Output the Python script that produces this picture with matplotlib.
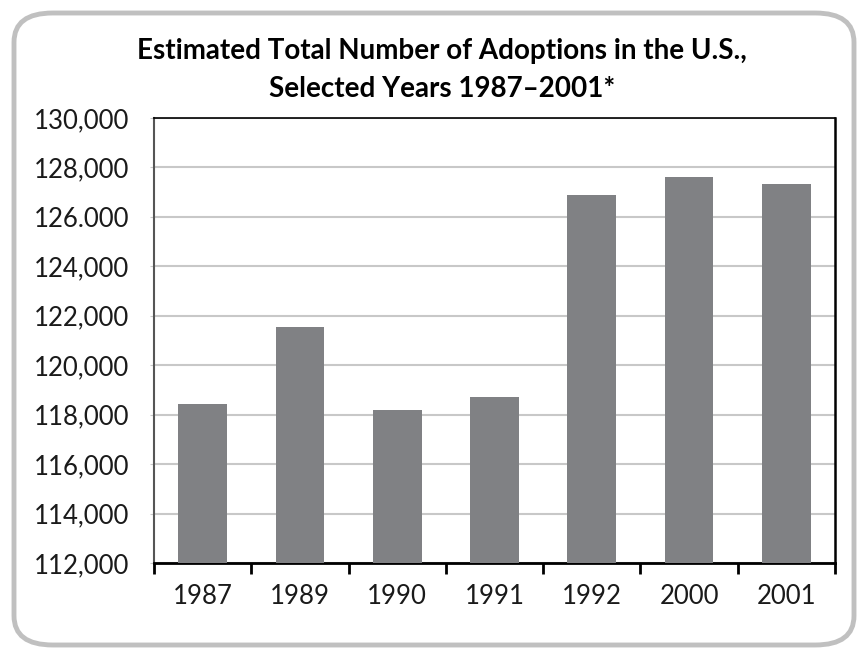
import numpy as np
import matplotlib.pyplot as plt
from matplotlib.patches import FancyBboxPatch
from matplotlib.ticker import FixedLocator

# === Data ===
years = ["1987", "1989", "1990", "1991", "1992", "2000", "2001"]
adoptions = [118450, 121550, 118200, 118700, 126900, 127600, 127350]
y_ticks = [112000, 114000, 116000, 118000, 120000, 122000, 124000, 126000, 128000, 130000]
y_labels = ["112,000", "114,000", "116,000", "118,000", "120,000", "122,000",
            "124,000", "126.000", "128,000", "130,000"]

W, H, DPI = 861, 648, 100
fig = plt.figure(figsize=(W / DPI, H / DPI), dpi=DPI)

# rounded grey frame around the whole chart
frame = FancyBboxPatch((14 / W, 3 / H), 840 / W, 632 / H,
                       boxstyle="round,pad=0,rounding_size=0.045",
                       transform=fig.transFigure, facecolor="white",
                       edgecolor="#c0c0c0", linewidth=3.5, zorder=-1)
fig.patches.append(frame)

ax = fig.add_axes([154 / W, 1 - 563 / H, 681 / W, 445 / H])
ax.set_zorder(1)
ax.set_facecolor("none")

x = np.arange(len(years))
ax.bar(x, adoptions, width=0.5, color="#808184", zorder=3)

ax.set_xlim(-0.5, len(years) - 0.5)
ax.set_ylim(112000, 130000)
ax.set_yticks(y_ticks)
ax.set_yticklabels(y_labels)
ax.set_xticks(x)
ax.set_xticklabels(years)
ax.xaxis.set_minor_locator(FixedLocator(np.arange(-0.5, len(years), 1.0)))

ax.grid(axis="y", color="#c8c8c8", linewidth=1.5, zorder=1)
ax.tick_params(axis="y", length=3, color="#c8c8c8", labelsize=18.5, pad=15)
ax.tick_params(axis="x", which="major", length=0, labelsize=18.5, pad=15)
ax.tick_params(axis="x", which="minor", length=8, width=2, color="black",
               direction="out")
for lab in ax.get_xticklabels() + ax.get_yticklabels():
    lab.set_fontfamily("Lato")
    lab.set_color("#1a1a1a")

ax.spines["left"].set_color("#555555")
ax.spines["left"].set_linewidth(1.5)
ax.spines["bottom"].set_linewidth(2)
ax.spines["top"].set_linewidth(1.2)
ax.spines["right"].set_linewidth(1.8)

fig.text(442 / W, 1 - 59 / H, "Estimated Total Number of Adoptions in the U.S.,",
         ha="center", va="baseline", fontsize=20, fontweight="bold",
         family="Lato")
fig.text(442 / W, 1 - 97 / H, "Selected Years 1987\u20132001*",
         ha="center", va="baseline", fontsize=20, fontweight="bold",
         family="Lato")

fig.savefig("out.png", dpi=DPI)
